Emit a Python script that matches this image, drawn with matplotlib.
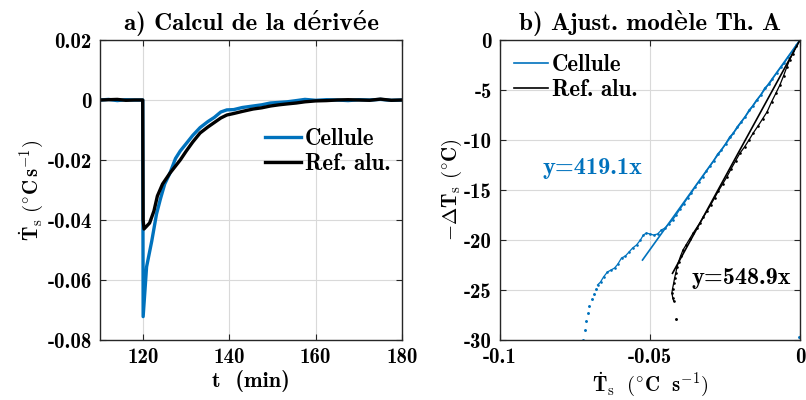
import numpy as np
import matplotlib
matplotlib.use("Agg")
import matplotlib.pyplot as plt
from matplotlib.ticker import FuncFormatter
from matplotlib.lines import Line2D

plt.rcParams['font.family'] = ['cmb10', 'DejaVu Serif']
plt.rcParams['font.weight'] = 'bold'
plt.rcParams['mathtext.fontset'] = 'cm'
plt.rcParams['axes.unicode_minus'] = False

blue = '#0072BD'

# =====================================================
# a) derivative vs time
# =====================================================
t_cell = [110, 112, 114, 116, 118, 119.9, 120.0, 120.8, 122.0, 123.1, 124.0, 125.0,
          126.2, 127.5, 128.6, 130.0, 131.5, 133.2, 135.0, 136.5, 138.0, 139.4,
          141.0, 143.0, 145.5, 147.5, 149.5, 151.5, 153.4, 155.5, 157.5, 160.0,
          162.5, 165.0, 167.5, 170.0, 172.5, 175.0, 177.5, 180.0]
d_cell = [0.0, 0.0002, -0.0002, 0.0001, 0.0, 0.0, -0.0722, -0.0556, -0.047, -0.038,
          -0.033, -0.028, -0.0244, -0.0195, -0.0170, -0.0145, -0.0118, -0.0092,
          -0.0072, -0.0058, -0.0040, -0.0033, -0.0032, -0.0025, -0.0020, -0.0016,
          -0.0010, -0.0008, -0.0006, -0.0002, 0.0002, -0.0001, 0.0001, 0.0,
          -0.0002, 0.0001, 0.0, 0.0002, -0.0001, 0.0]

t_ref = [110, 112, 114, 116, 118, 119.9, 120.0, 120.2, 121.5, 122.5, 123.3, 124.5,
         126.2, 128.6, 130.0, 131.5, 133.2, 135.0, 136.5, 138.0, 139.4, 141.0,
         143.0, 145.5, 147.5, 149.5, 151.5, 153.4, 155.5, 157.5, 160.0, 162.5,
         165.0, 167.5, 170.0, 172.5, 175.0, 177.5, 180.0]
d_ref = [0.0, 0.0001, 0.0002, -0.0001, 0.0, 0.0, -0.040, -0.043, -0.041, -0.037,
         -0.032, -0.028, -0.0244, -0.0200, -0.0170, -0.0140, -0.0110, -0.0090,
         -0.0075, -0.0060, -0.0050, -0.0045, -0.0038, -0.0030, -0.0026, -0.0020,
         -0.0016, -0.0013, -0.0010, -0.0006, -0.0003, -0.0002, 0.0, 0.0001,
         0.0, -0.0001, 0.0003, -0.0001, 0.0]

# =====================================================
# b) fit of thermal model A
# =====================================================
cell_x = [0.0, -0.0012, -0.0025, -0.0040, -0.0052, -0.0063, -0.0078, -0.0092,
          -0.0102, -0.0118, -0.0130, -0.0145, -0.0158, -0.0170, -0.0183, -0.0197,
          -0.0210, -0.0222, -0.0235, -0.0248, -0.0262, -0.0275, -0.0288, -0.0300,
          -0.0312, -0.0325, -0.0338, -0.0350, -0.0362, -0.0375, -0.0388, -0.0400,
          -0.0413, -0.0425, -0.0438, -0.0450, -0.0462, -0.0475, -0.0488, -0.0500,
          -0.0512, -0.0522, -0.0532, -0.0545, -0.0558, -0.0570, -0.0582, -0.0595,
          -0.0607, -0.0618, -0.0630, -0.0642, -0.0655, -0.0665, -0.0675]
cell_y = [0.0, -0.5, -1.1, -1.7, -2.3, -2.7, -3.3, -3.9, -4.4, -4.8, -5.5, -6.0,
          -6.6, -7.0, -7.7, -8.2, -8.7, -9.3, -9.7, -10.4, -11.0, -11.4, -12.1,
          -12.6, -13.1, -13.7, -14.2, -14.7, -15.3, -15.8, -16.4, -16.9, -17.5,
          -18.0, -18.4, -18.8, -19.0, -19.4, -19.5, -19.4, -19.3, -19.5, -20.0,
          -20.5, -20.8, -21.2, -21.6, -21.8, -22.4, -22.8, -23.0, -23.2, -23.7,
          -24.2, -24.5]
cell_tail_x = [-0.0680, -0.0688, -0.0695, -0.0702, -0.0708, -0.0713, -0.0718,
               -0.0722, -0.0005]
cell_tail_y = [-24.9, -25.4, -25.9, -26.6, -27.3, -28.1, -29.0, -30.0, -29.7]

ref_x = [0.0, -0.0012, -0.0025, -0.0035, -0.0044, -0.0055, -0.0067, -0.0080,
         -0.0095, -0.0110, -0.0125, -0.0140, -0.0156, -0.0170, -0.0185, -0.0200,
         -0.0215, -0.0230, -0.0244, -0.0258, -0.0272, -0.0285, -0.0298, -0.0310,
         -0.0322, -0.0334, -0.0345, -0.0356, -0.0368, -0.0380, -0.0390, -0.0398,
         -0.0405, -0.0410, -0.0414, -0.0418, -0.0421, -0.0425, -0.0427, -0.0424,
         -0.0421]
ref_y = [0.0, -0.6, -1.4, -2.0, -2.7, -3.6, -4.5, -5.3, -6.2, -7.2, -7.9, -8.6,
         -9.3, -10.0, -10.7, -11.3, -12.1, -12.9, -13.7, -14.4, -15.1, -15.8,
         -16.5, -17.1, -17.7, -18.3, -18.8, -19.3, -19.9, -20.5, -21.0, -21.6,
         -22.2, -22.7, -23.3, -23.8, -24.3, -24.9, -25.3, -25.8, -26.1]
ref_tail_x = [-0.0413]
ref_tail_y = [-27.9]

slope_cell = 419.1
slope_ref = 548.9
fit_cell_x = np.array([0.0, -0.0525])
fit_ref_x = np.array([0.0, -0.0425])


def fmt(v, pos):
    return '%g' % round(v, 4)


def style(ax):
    ax.grid(True, color='#d9d9d9', lw=0.8)
    ax.set_axisbelow(True)
    ax.tick_params(direction='in', top=True, right=True, labelsize=15,
                   length=4, color='#262626', pad=6)
    for sp in ax.spines.values():
        sp.set_color('#262626')
        sp.set_linewidth(1.0)
    ax.xaxis.set_major_formatter(FuncFormatter(fmt))
    ax.yaxis.set_major_formatter(FuncFormatter(fmt))


fig = plt.figure(figsize=(8.06, 4.0), dpi=100)
ax1 = fig.add_axes([100/806, 60/400, 302/806, 300/400])
ax2 = fig.add_axes([500/806, 60/400, 300/806, 300/400])

ax1.plot(t_cell, d_cell, color=blue, lw=2.4, label='Cellule')
ax1.plot(t_ref, d_ref, color='k', lw=2.4, label='Ref. alu.')
ax1.set_xlim(110, 180)
ax1.set_ylim(-0.08, 0.02)
ax1.set_xticks([120, 140, 160, 180])
ax1.set_yticks([-0.08, -0.06, -0.04, -0.02, 0, 0.02])
style(ax1)
ax1.set_title('a) Calcul de la dérivée', fontsize=18, pad=7)
ax1.set_xlabel(r't  (min)', fontsize=16, labelpad=2)
ax1.set_ylabel(r'$\dot{\mathbf{T}}_{\mathrm{s}}\ (^{\circ}\mathbf{C}\,\mathbf{s}^{-1})$',
               fontsize=15, labelpad=2)
ax1.legend(loc='upper right', bbox_to_anchor=(1.0, 0.745), frameon=False,
           fontsize=16.5, handlelength=1.6, handletextpad=0.15, labelspacing=0.15,
           borderaxespad=0.1)

ax2.plot(cell_x, cell_y, color=blue, lw=0.9, marker='.', ms=1.8)
ax2.plot(ref_x, ref_y, color='k', lw=0.9, marker='.', ms=1.8)
ax2.plot(cell_tail_x, cell_tail_y, ls='none', color=blue, marker='.', ms=2.2)
ax2.plot(ref_tail_x, ref_tail_y, ls='none', color='k', marker='.', ms=2.2)
ax2.plot(fit_cell_x, slope_cell * fit_cell_x, color=blue, lw=1.2)
ax2.plot(fit_ref_x, slope_ref * fit_ref_x, color='k', lw=1.2)
ax2.text(-0.0857, -12.8, 'y=419.1x', color=blue, fontsize=17.5, va='center')
ax2.text(-0.0362, -23.8, 'y=548.9x', color='k', fontsize=17.5, va='center')
ax2.set_xlim(-0.1, 0)
ax2.set_ylim(-30, 0)
ax2.set_xticks([-0.1, -0.05, 0])
ax2.set_yticks([-30, -25, -20, -15, -10, -5, 0])
style(ax2)
ax2.set_title('b) Ajust. modèle Th. A', fontsize=18, pad=7)
ax2.set_xlabel(r'$\dot{\mathbf{T}}_{\mathrm{s}}\ \ (^{\circ}\mathbf{C}\ \ \mathbf{s}^{-1})$',
               fontsize=15, labelpad=2)
ax2.set_ylabel(r'$-\mathbf{\Delta T}_{\mathrm{s}}\ (^{\circ}\mathbf{C})$', fontsize=15,
               labelpad=0)
handles = [Line2D([], [], color=blue, lw=1.2), Line2D([], [], color='k', lw=1.2)]
ax2.legend(handles, ['Cellule', 'Ref. alu.'], loc='upper left', frameon=False,
           fontsize=16.5, handlelength=1.5, handletextpad=0.15, labelspacing=0.15,
           borderaxespad=0.2)

fig.savefig('out.png', dpi=100)
